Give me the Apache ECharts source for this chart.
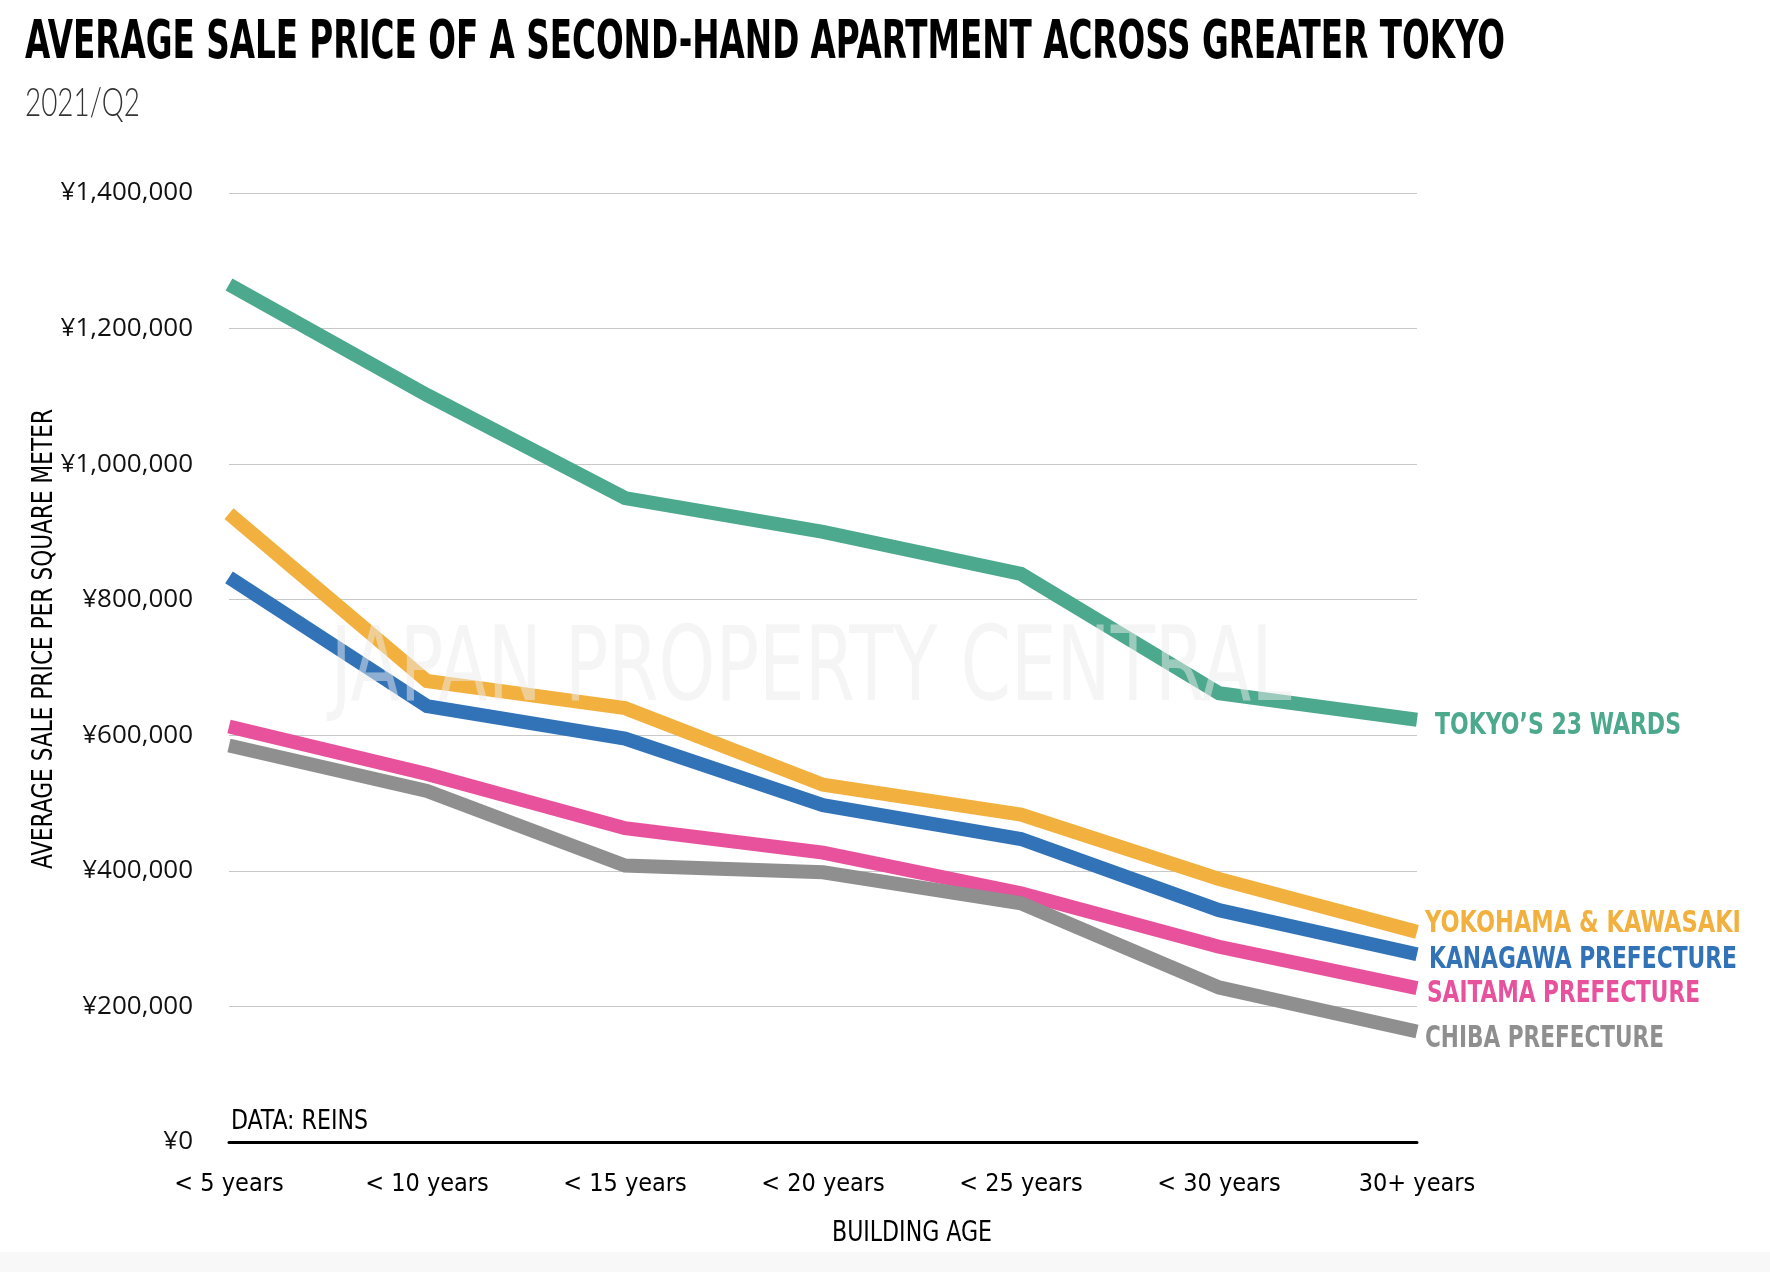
<!DOCTYPE html>
<html><head><meta charset="utf-8">
<script src="https://cdn.jsdelivr.net/npm/echarts@6/dist/echarts.min.js"></script>
<style>html,body{margin:0;padding:0;background:#fff}#c{width:1770px;height:1272px}</style>
</head><body><div id="c"></div>
<script>
const categories = ['< 5 years','< 10 years','< 15 years','< 20 years','< 25 years','< 30 years','30+ years'];
const seriesNames = ["TOKYO’S 23 WARDS", 'YOKOHAMA & KAWASAKI', 'KANAGAWA PREFECTURE', 'SAITAMA PREFECTURE', 'CHIBA PREFECTURE'];
const tokyo23 = [1265000,1102000,950000,900000,838000,662000,623000];
const yokohamaKawasaki = [927000,680000,640000,527000,483000,388000,310000];
const kanagawa = [833000,643000,595000,497000,447000,342000,277000];
const saitama = [613000,543000,463000,427000,367000,288000,227000];
const chiba = [585000,518000,408000,398000,352000,228000,163000];
const yTicks = [0,200000,400000,600000,800000,1000000,1200000,1400000];

const COND = '"DejaVu Sans Condensed","Liberation Sans Narrow",sans-serif';
const colors = ['#4CA98D','#F2B13F','#3273B8','#E8519C','#8F8F8F'];
const allData = [tokyo23, yokohamaKawasaki, kanagawa, saitama, chiba];
// label style: [dx from line end, dy, target width]
const endLabelStyle = [[18, 7, 246],[8, -8, 316],[12, 6, 308],[10, 6, 273],[8, 8, 239]];

const cv = document.createElement('canvas').getContext('2d');
function fitScale(text, font, target) { cv.font = font; return target / cv.measureText(text).width; }
function txt(text, font, x, y, target, opts) {
  opts = opts || {};
  return Object.assign({
    type: 'text', x, y, z: 5, silent: true,
    scaleX: fitScale(text, font, target),
    style: { text, font, fill: opts.fill || '#000', textAlign: opts.align || 'left', textVerticalAlign: 'middle' }
  }, opts.extra || {});
}

const chart = echarts.init(document.getElementById('c'));

chart.setOption({
  animation: false,
  backgroundColor: '#fff',
  grid: { left: 229, right: 353, top: 193, bottom: 130 },
  xAxis: {
    type: 'category', data: categories, boundaryGap: false,
    axisLine: { lineStyle: { color: '#000', width: 3 } },
    axisTick: { show: false },
    axisLabel: { fontFamily: COND, fontSize: 25, color: '#000', margin: 30 },
    splitLine: { show: false }
  },
  yAxis: {
    type: 'value', min: yTicks[0], max: yTicks[yTicks.length-1], interval: 200000,
    axisLine: { show: false }, axisTick: { show: false },
    axisLabel: { fontFamily: '"Open Sans",sans-serif', fontSize: 26, color: '#111', margin: 36,
      formatter: v => '¥' + v.toLocaleString('en-US') },
    splitLine: { lineStyle: { color: '#c8c8c8', width: 1 } }
  },
  series: allData.map((d, i) => ({
    name: seriesNames[i], type: 'line', data: d, symbol: 'none', z: 3,
    lineStyle: { width: 14, color: colors[i], cap: 'butt', join: 'miter' },
    itemStyle: { color: colors[i] }
  }))
});

const g = [
  { type: 'rect', z: 0, silent: true, shape: { x: 0, y: 1252, width: 1770, height: 20 }, style: { fill: '#f8f8f8' } },
  Object.assign(txt('JAPAN PROPERTY CENTRAL', '103px ' + COND, 811, 673, 961, { fill: 'rgba(236,236,236,0.5)', align: 'center' }), { z: 10 }),
  txt('AVERAGE SALE PRICE OF A SECOND-HAND APARTMENT ACROSS GREATER TOKYO', 'bold 54px ' + COND, 25, 44, 1480),
  txt('2021/Q2', '300 40px Lato,' + COND, 25, 103, 115, { fill: '#333' }),
  txt('DATA: REINS', '27px ' + COND, 231, 1122, 137),
  txt('BUILDING AGE', '28px ' + COND, 912, 1234, 160, { align: 'center' }),
  txt('AVERAGE SALE PRICE PER SQUARE METER', '28px ' + COND, 45, 639, 460, { align: 'center', extra: { rotation: Math.PI / 2 } })
];
allData.forEach((d, i) => {
  const last = d.length - 1;
  const p = chart.convertToPixel({ xAxisIndex: 0, yAxisIndex: 0 }, [last, d[last]]);
  const s = endLabelStyle[i];
  g.push(txt(seriesNames[i], 'bold 30px ' + COND, p[0] + s[0], p[1] + s[1], s[2], { fill: colors[i] }));
});
chart.setOption({ graphic: g });
</script></body></html>
